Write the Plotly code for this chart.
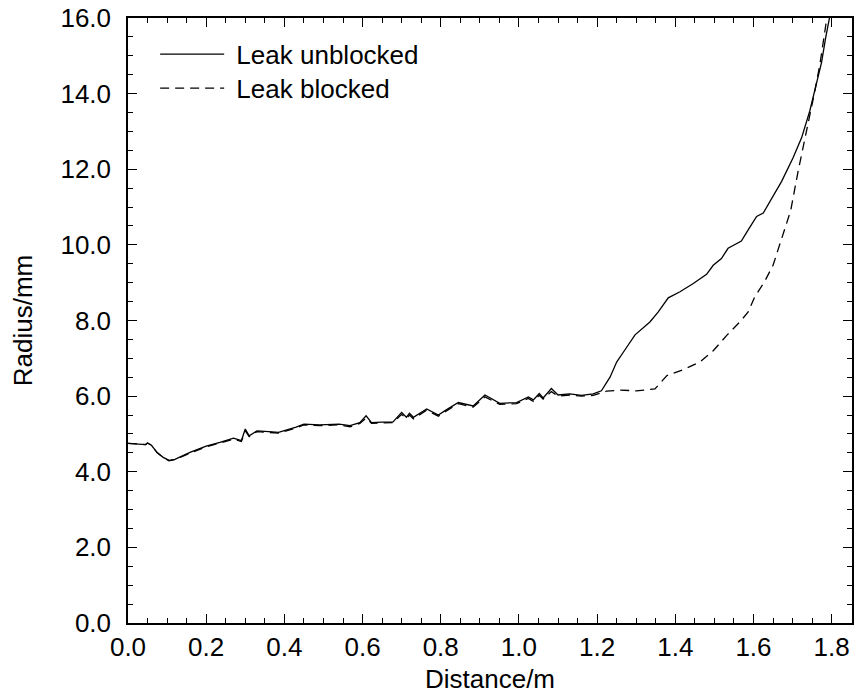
import plotly.graph_objects as go

# Leak unblocked (solid)
x_unblocked = [0.0, 0.02, 0.045, 0.05, 0.06, 0.075, 0.09, 0.105, 0.12, 0.16, 0.2, 0.235, 0.27, 0.29, 0.30, 0.31,
               0.33, 0.36, 0.385, 0.43, 0.45, 0.49, 0.54, 0.568, 0.593, 0.609, 0.623, 0.65, 0.678, 0.70, 0.712,
               0.72, 0.73, 0.764, 0.794, 0.81, 0.845, 0.883, 0.913, 0.951, 0.994, 1.024, 1.037, 1.052, 1.062,
               1.083, 1.10, 1.13, 1.16, 1.19, 1.211, 1.233, 1.25, 1.267, 1.297, 1.335, 1.356, 1.382, 1.412,
               1.446, 1.48, 1.497, 1.518, 1.535, 1.569, 1.586, 1.608, 1.625, 1.65, 1.672, 1.701, 1.723, 1.744,
               1.761, 1.774, 1.785, 1.795, 1.80]
y_unblocked = [4.75, 4.74, 4.72, 4.76, 4.70, 4.50, 4.38, 4.30, 4.33, 4.52, 4.68, 4.78, 4.89, 4.82, 5.13, 4.95,
               5.08, 5.06, 5.04, 5.18, 5.26, 5.24, 5.26, 5.22, 5.30, 5.48, 5.30, 5.31, 5.32, 5.57, 5.44,
               5.55, 5.44, 5.66, 5.50, 5.61, 5.83, 5.74, 6.03, 5.81, 5.83, 5.98, 5.90, 6.07, 5.95,
               6.20, 6.03, 6.06, 6.02, 6.06, 6.14, 6.50, 6.90, 7.16, 7.62, 7.96, 8.22, 8.60, 8.76,
               8.98, 9.22, 9.46, 9.64, 9.91, 10.10, 10.39, 10.75, 10.84, 11.28, 11.68, 12.30, 12.83, 13.54,
               14.25, 14.82, 15.50, 16.06, 16.30]

# Leak blocked (dashed)
x_blocked = [0.0, 0.02, 0.045, 0.05, 0.06, 0.075, 0.09, 0.105, 0.12, 0.16, 0.2, 0.235, 0.27, 0.29, 0.30, 0.31,
             0.33, 0.36, 0.385, 0.43, 0.45, 0.49, 0.54, 0.568, 0.593, 0.609, 0.623, 0.65, 0.678, 0.70, 0.712,
             0.72, 0.73, 0.764, 0.794, 0.81, 0.845, 0.883, 0.913, 0.951, 0.994, 1.024, 1.037, 1.052, 1.062,
             1.083, 1.10, 1.13, 1.16, 1.19, 1.224, 1.258, 1.30, 1.348, 1.378, 1.42, 1.463, 1.497, 1.531,
             1.565, 1.586, 1.603, 1.629, 1.65, 1.667, 1.695, 1.714, 1.736, 1.757, 1.77, 1.78, 1.788, 1.792]
y_blocked = [4.75, 4.74, 4.72, 4.76, 4.70, 4.50, 4.38, 4.29, 4.32, 4.50, 4.66, 4.76, 4.86, 4.80, 5.08, 4.93,
             5.06, 5.04, 5.02, 5.16, 5.24, 5.22, 5.24, 5.19, 5.28, 5.42, 5.28, 5.29, 5.30, 5.52, 5.40,
             5.50, 5.40, 5.63, 5.47, 5.58, 5.80, 5.71, 5.98, 5.78, 5.80, 5.94, 5.86, 6.02, 5.92,
             6.12, 6.00, 6.03, 6.00, 6.02, 6.13, 6.16, 6.14, 6.19, 6.54, 6.70, 6.90, 7.20, 7.60,
             7.96, 8.22, 8.62, 9.04, 9.46, 10.00, 10.90, 11.94, 13.00, 14.07, 14.78, 15.50, 16.07, 16.30]

x_ticks = [0.0, 0.2, 0.4, 0.6, 0.8, 1.0, 1.2, 1.4, 1.6, 1.8]
y_ticks = [0.0, 2.0, 4.0, 6.0, 8.0, 10.0, 12.0, 14.0, 16.0]

series_names = ["Leak unblocked", "Leak blocked"]

FONT = "Liberation Sans, Arial, sans-serif"
NBSP = "\u00a0"

fig = go.Figure()
fig.add_trace(go.Scatter(x=x_unblocked, y=y_unblocked, mode="lines", name=NBSP + series_names[0],
                         line=dict(color="black", width=1.3), legend="legend"))
fig.add_trace(go.Scatter(x=x_blocked, y=y_blocked, mode="lines", name=NBSP + series_names[1],
                         line=dict(color="black", width=1.3, dash="9px,6px"), legend="legend2"))

axis_common = dict(
    showline=True, linecolor="black", linewidth=1.5, mirror="allticks",
    ticks="inside", ticklen=9, tickwidth=1.3, tickcolor="black",
    showgrid=False, zeroline=False, tickformat=".1f", ticklabeloverflow="allow",
    tickfont=dict(family=FONT, size=26, color="black"),
    title_font=dict(family=FONT, size=26, color="black"),
)

fig.update_xaxes(range=[0, 1.852], tickvals=x_ticks, title_text="Distance/m",
                 minor=dict(dtick=0.05, ticks="inside", ticklen=5, tickwidth=1, tickcolor="black", showgrid=False),
                 title_standoff=9, **axis_common)
fig.update_yaxes(range=[0, 16], tickvals=y_ticks, title_text="Radius/mm",
                 minor=dict(dtick=0.5, ticks="inside", ticklen=5, tickwidth=1, tickcolor="black", showgrid=False),
                 ticklabelstandoff=10, title_standoff=20, **axis_common)

legend_common = dict(xanchor="left", yanchor="top", bgcolor="rgba(0,0,0,0)", borderwidth=0,
                     itemwidth=64, font=dict(family=FONT, size=26, color="black"))

fig.update_layout(
    width=855, height=699,
    margin=dict(l=128, r=3, t=18, b=76, autoexpand=False),
    plot_bgcolor="white", paper_bgcolor="white",
    font=dict(family=FONT, size=26, color="black"),
    legend=dict(x=0.0375, y=0.979, **legend_common),
    legend2=dict(x=0.0375, y=0.9228, **legend_common),
    showlegend=True,
)

fig.write_html("out.html", config={"displayModeBar": False},
               post_script="document.body.style.margin='0px';")
